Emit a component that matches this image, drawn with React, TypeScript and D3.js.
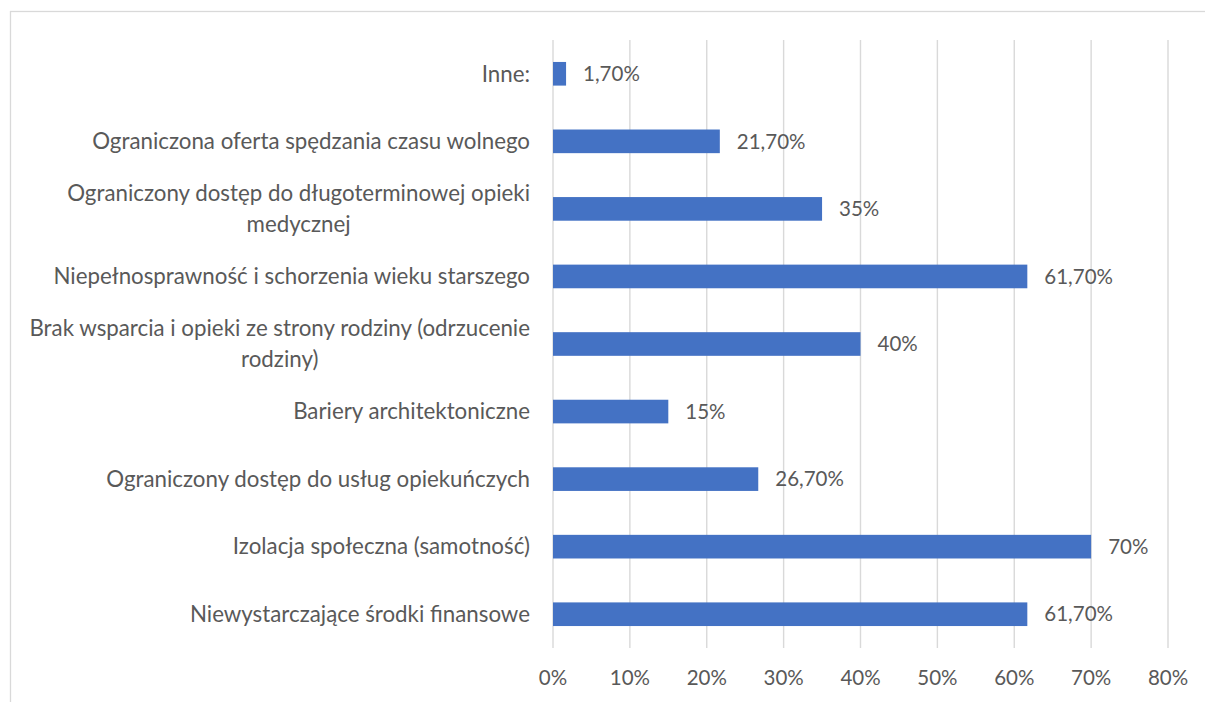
import React, { useEffect, useRef } from 'react';
import * as d3 from 'd3';

// categories bottom -> top, multi-line labels split into lines
const categories: string[][] = [
  ['Niewystarczające środki finansowe'],
  ['Izolacja społeczna (samotność)'],
  ['Ograniczony dostęp do usług opiekuńczych'],
  ['Bariery architektoniczne'],
  ['Brak wsparcia i opieki ze strony rodziny (odrzucenie', 'rodziny)'],
  ['Niepełnosprawność i schorzenia wieku starszego'],
  ['Ograniczony dostęp do długoterminowej opieki', 'medycznej'],
  ['Ograniczona oferta spędzania czasu wolnego'],
  ['Inne:'],
];
const values = [61.7, 70, 26.7, 15, 40, 61.7, 35, 21.7, 1.7];
const xTicks = [0, 10, 20, 30, 40, 50, 60, 70, 80];

const W = 1205;
const H = 702;
const FONT = 'Lato, "Noto Sans", sans-serif';
const TEXT = '#595959';

const fmt = (v: number) =>
  Number.isInteger(v) ? `${v}%` : `${v.toFixed(2).replace('.', ',')}%`;

const App: React.FC = () => {
  const svgRef = useRef<SVGSVGElement>(null);

  useEffect(() => {
    if (!svgRef.current) return;
    const svg = d3.select(svgRef.current);
    svg.selectAll('*').remove();

    const plot = { left: 553, right: 1168, top: 40, bottom: 648 };

    const x = d3.scaleLinear().domain([0, 80]).range([plot.left, plot.right]);
    const ids = categories.map((_, i) => String(i));
    const y = d3.scaleBand<string>()
      .domain([...ids].reverse())
      .range([plot.top, plot.bottom])
      .paddingInner(0.65)
      .paddingOuter(0.325);

    // chart border
    svg.append('rect')
      .attr('x', 10.5).attr('y', 11.5)
      .attr('width', 1300).attr('height', 800)
      .attr('fill', 'none')
      .attr('stroke', '#d9d9d9')
      .attr('stroke-width', 1.3);

    // grid
    svg.append('g')
      .selectAll('line')
      .data(xTicks)
      .join('line')
      .attr('x1', d => x(d)).attr('x2', d => x(d))
      .attr('y1', plot.top).attr('y2', plot.bottom)
      .attr('stroke', '#d9d9d9')
      .attr('stroke-width', 1.4);

    // tick labels
    svg.append('g')
      .selectAll('text')
      .data(xTicks)
      .join('text')
      .attr('x', d => x(d))
      .attr('y', 685)
      .attr('text-anchor', 'middle')
      .attr('font-family', FONT)
      .attr('font-size', 20.5)
      .attr('fill', TEXT)
      .text(d => `${d}%`);

    // bars
    svg.append('g')
      .selectAll('rect')
      .data(values)
      .join('rect')
      .attr('x', x(0))
      .attr('y', (_, i) => y(String(i))!)
      .attr('width', d => x(d) - x(0))
      .attr('height', y.bandwidth())
      .attr('fill', '#4472c4');

    // value labels
    svg.append('g')
      .selectAll('text')
      .data(values)
      .join('text')
      .attr('x', d => x(d) + 17)
      .attr('y', (_, i) => y(String(i))! + y.bandwidth() / 2)
      .attr('dy', '0.35em')
      .attr('font-family', FONT)
      .attr('font-size', 20.5)
      .attr('fill', TEXT)
      .text(d => fmt(d));

    // category labels
    const labelRight = 530;
    const lineH = 31;
    categories.forEach((lines, i) => {
      const cy = y(String(i))! + y.bandwidth() / 2;
      const g = svg.append('g');
      const texts = lines.map((ln, j) =>
        g.append('text')
          .attr('y', cy + (j - (lines.length - 1) / 2) * lineH)
          .attr('dy', '0.35em')
          .attr('font-family', FONT)
          .attr('font-size', 22.3)
          .attr('fill', TEXT)
          .text(ln)
      );
      const widths = texts.map(t => (t.node() as SVGTextElement).getComputedTextLength());
      const maxW = d3.max(widths) ?? 0;
      texts.forEach(t => t.attr('x', labelRight - maxW / 2).attr('text-anchor', 'middle'));
    });
  }, []);

  return (
    <svg
      ref={svgRef}
      width={W}
      height={H}
      style={{ position: 'absolute', left: 0, top: 0, background: '#fff' }}
    />
  );
};

export default App;
